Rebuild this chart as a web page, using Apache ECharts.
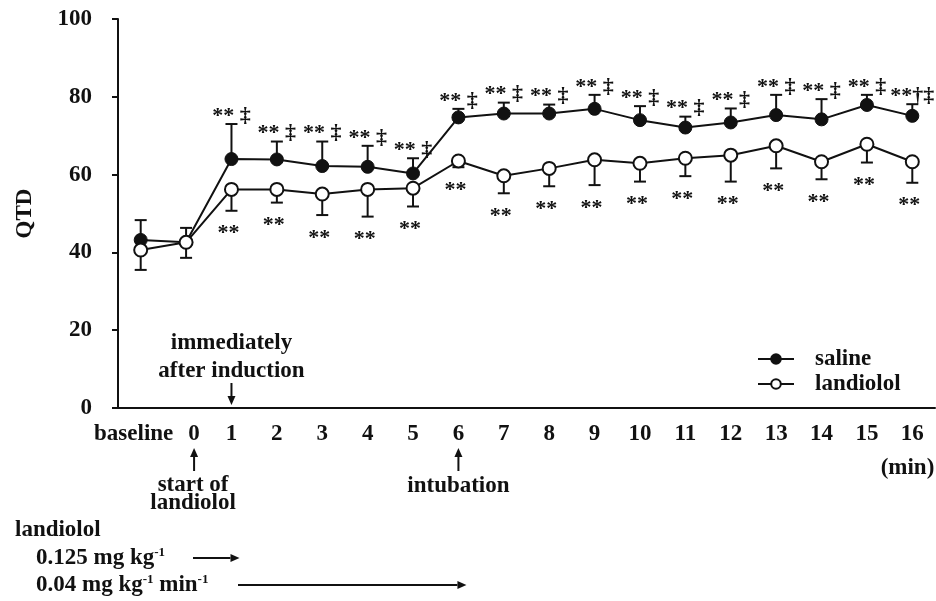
<!DOCTYPE html>
<html>
<head>
<meta charset="utf-8">
<script src="https://cdn.jsdelivr.net/npm/echarts@6/dist/echarts.min.js"></script>
<style>
  html, body { margin: 0; padding: 0; background: #fff; }
  #chart { width: 936px; height: 601px; }
</style>
</head>
<body>
<div id="chart"></div>
<script>
// Time points (baseline, then minutes after start of landiolol)
const categories = ['baseline', '0', '1', '2', '3', '4', '5', '6', '7', '8',
  '9', '10', '11', '12', '13', '14', '15', '16'];

// QTD mean and SD, saline group (SD drawn upward)
const salineMean = [43.2, 42.6, 64.0, 63.9, 62.2, 62.0, 60.3, 74.7, 75.7, 75.7,
  76.9, 74.0, 72.1, 73.4, 75.3, 74.2, 77.9, 75.1];
const salineSD = [5.1, 3.7, 9.0, 4.6, 6.3, 5.4, 3.9, 2.2, 2.8, 2.3,
  3.6, 3.6, 2.8, 3.6, 5.2, 5.2, 2.6, 3.0];

// QTD mean and SD, landiolol group (SD drawn downward)
const landiololMean = [40.6, 42.6, 56.2, 56.2, 55.0, 56.2, 56.5, 63.5, 59.7, 61.6,
  63.8, 62.9, 64.2, 65.0, 67.4, 63.3, 67.8, 63.3];
const landiololSD = [5.1, 4.0, 5.5, 3.4, 5.4, 7.0, 4.7, 1.6, 4.5, 4.6,
  6.5, 4.7, 4.6, 6.8, 5.8, 4.5, 4.7, 5.4];

// Significance marks
const salineSig = ['', '', '** ‡', '** ‡', '** ‡', '** ‡', '** ‡', '** ‡', '** ‡', '** ‡',
  '** ‡', '** ‡', '** ‡', '** ‡', '** ‡', '** ‡', '** ‡', '**†‡'];
const landiololSig = ['', '', '**', '**', '**', '**', '**', '**', '**', '**',
  '**', '**', '**', '**', '**', '**', '**', '**'];

// Y axis ticks
const yMin = 0, yMax = 100, yStep = 20;

const FONT = '"Liberation Serif", "Times New Roman", serif';
const INK = '#111';
const FS = 23;

const chart = echarts.init(document.getElementById('chart'));

function errorBarSeries(name, means, sds, marks, dir) {
  return {
    name: name + ' SD',
    type: 'custom',
    clip: false,
    z: 1,
    data: means.map((m, i) => [i, m, m + dir * sds[i]]),
    renderItem(params, api) {
      const i = api.value(0);
      const p0 = api.coord([i, api.value(1)]);
      const p1 = api.coord([i, api.value(2)]);
      const half = 6;
      const children = [
        { type: 'line', shape: { x1: p0[0], y1: p0[1], x2: p1[0], y2: p1[1] },
          style: { stroke: INK, lineWidth: 2 } },
        { type: 'line', shape: { x1: p1[0] - half, y1: p1[1], x2: p1[0] + half, y2: p1[1] },
          style: { stroke: INK, lineWidth: 2 } }
      ];
      const txt = marks[params.dataIndex];
      if (txt) {
        children.push({
          type: 'text',
          style: {
            text: txt,
            x: p1[0] + (dir > 0 ? 0 : -3),
            y: dir > 0 ? p1[1] - 8 : p1[1] + 23,
            align: 'center',
            verticalAlign: 'middle',
            font: 'bold 22px ' + FONT,
            fill: INK
          }
        });
      }
      return { type: 'group', children };
    }
  };
}

chart.setOption({
  animation: false,
  backgroundColor: '#fff',
  grid: { left: 118, right: 1, top: 19, bottom: 193 },
  legend: {
    left: 752, top: 342, orient: 'vertical',
    itemWidth: 36, itemHeight: 12, itemGap: 1,
    data: ['saline', 'landiolol'],
    textStyle: { fontFamily: FONT, fontWeight: 'bold', fontSize: FS, lineHeight: 24, color: INK, padding: [0, 0, 0, 16] }
  },
  xAxis: {
    type: 'category',
    data: categories,
    boundaryGap: true,
    axisLine: { lineStyle: { color: INK, width: 2 } },
    axisTick: { show: false },
    axisLabel: {
      interval: 0,
      margin: 15,
      color: INK,
      fontFamily: FONT, fontWeight: 'bold', fontSize: FS,
      formatter: (v) => v === 'baseline' ? '{l|baseline}' : (v === '0' ? '{r|0}' : v),
      rich: {
        l: { fontFamily: FONT, fontWeight: 'bold', fontSize: FS, color: INK, padding: [0, 14, 0, 0] },
        r: { fontFamily: FONT, fontWeight: 'bold', fontSize: FS, color: INK, padding: [0, 0, 0, 16] }
      }
    }
  },
  yAxis: {
    type: 'value',
    min: yMin, max: yMax, interval: yStep,
    name: 'QTD',
    nameLocation: 'middle',
    nameRotate: 90,
    nameGap: 81,
    nameTextStyle: { fontFamily: FONT, fontWeight: 'bold', fontSize: FS, color: INK },
    axisLine: { show: true, lineStyle: { color: INK, width: 2 } },
    axisTick: { show: true, length: 6, lineStyle: { color: INK, width: 2 } },
    splitLine: { show: false },
    axisLabel: { margin: 26, color: INK, fontFamily: FONT, fontWeight: 'bold', fontSize: FS }
  },
  series: [
    errorBarSeries('saline', salineMean, salineSD, salineSig, 1),
    errorBarSeries('landiolol', landiololMean, landiololSD, landiololSig, -1),
    {
      name: 'saline', type: 'line', data: salineMean, z: 3,
      symbol: 'circle', symbolSize: 13,
      lineStyle: { color: INK, width: 2 },
      itemStyle: { color: INK, borderColor: INK, borderWidth: 1 }
    },
    {
      name: 'landiolol', type: 'line', data: landiololMean, z: 4,
      symbol: 'circle', symbolSize: 13,
      lineStyle: { color: INK, width: 2 },
      itemStyle: { color: '#fff', borderColor: INK, borderWidth: 2 }
    }
  ]
});

// Protocol annotations placed against the category axis
function px(idx) { return chart.convertToPixel({ xAxisIndex: 0 }, idx); }
function py(v) { return chart.convertToPixel({ yAxisIndex: 0 }, v); }

function arrow(x1, y1, x2, y2, head) {
  const ang = Math.atan2(y2 - y1, x2 - x1);
  const h = head || 8, w = 4;
  const bx = x2 - h * Math.cos(ang), by = y2 - h * Math.sin(ang);
  const nx = -Math.sin(ang) * w, ny = Math.cos(ang) * w;
  return [
    { type: 'line', shape: { x1, y1, x2: bx, y2: by }, style: { stroke: INK, lineWidth: 2 } },
    { type: 'polygon', shape: { points: [[x2, y2], [bx + nx, by + ny], [bx - nx, by - ny]] }, style: { fill: INK } }
  ];
}

function label(text, x, y, align, size, rich) {
  return {
    type: 'text',
    style: {
      text, x, y, align: align || 'center', verticalAlign: 'middle',
      font: 'bold ' + (size || FS) + 'px ' + FONT, fill: INK, rich
    }
  };
}

const x0 = px(1), x1 = px(2), x6 = px(7), xEnd = px(categories.length - 1);
const yAxis0 = py(0);
const supRich = {
  n: { font: 'bold ' + FS + 'px ' + FONT, fill: INK },
  s: { font: 'bold 13px ' + FONT, fill: INK, verticalAlign: 'top', padding: [0, 0, 9, 0] }
};

const graphics = [
  label('immediately', x1, 343),
  label('after induction', x1, 371),
  ...arrow(x1, 383, x1, yAxis0 - 3, 9),
  ...arrow(x0 + 8, 471, x0 + 8, 448, 9),
  label('start of', x0 + 7, 485),
  label('landiolol', x0 + 7, 503),
  ...arrow(x6, 471, x6, 448, 9),
  label('intubation', x6, 486),
  label('(min)', xEnd + 22, 468, 'right'),
  label('landiolol', 15, 530, 'left'),
  label('{n|0.125 mg kg}{s|-1}', 36, 558, 'left', FS, supRich),
  ...arrow(193, 558, x1 + 8, 558, 9),
  label('{n|0.04 mg kg}{s|-1}{n| min}{s|-1}', 36, 585, 'left', FS, supRich),
  ...arrow(238, 585, x6 + 8, 585, 9)
];

chart.setOption({ graphic: graphics.map(g => Object.assign({ silent: true }, g)) });
</script>
</body>
</html>
